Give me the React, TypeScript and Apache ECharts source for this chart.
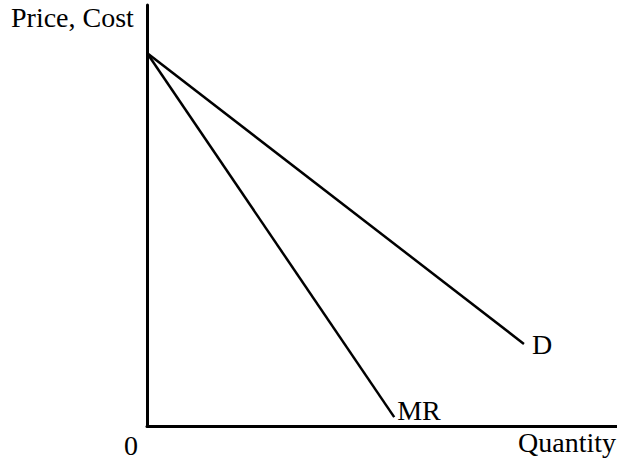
import React, { useEffect, useRef } from "react";
import * as echarts from "echarts";

const demandCurve: [number, number][] = [
  [0, 8.86],
  [8.02, 1.95],
];
const mrCurve: [number, number][] = [
  [0, 8.86],
  [5.26, 0.21],
];
const seriesNames = ["D", "MR"];
const yAxisTitle = "Price, Cost";
const xAxisTitle = "Quantity";
const originLabel = "0";

const FONT = "'Liberation Serif', 'Times New Roman', serif";
const FS = 28;

export default function App() {
  const ref = useRef<HTMLDivElement>(null);
  useEffect(() => {
    if (!ref.current) return;
    const chart = echarts.init(ref.current, undefined, { renderer: "svg" });
    const lineStyle = { color: "#000", width: 2.5 };
    chart.setOption({
      animation: false,
      backgroundColor: "#fff",
      grid: { left: 147, right: 0, top: 5, bottom: 37 },
      xAxis: {
        type: "value",
        min: 0,
        max: 10,
        axisLine: { show: true, lineStyle: { color: "#000", width: 3 } },
        axisTick: { show: false },
        axisLabel: { show: false },
        splitLine: { show: false },
      },
      yAxis: {
        type: "value",
        min: 0,
        max: 10,
        axisLine: { show: true, lineStyle: { color: "#000", width: 3 } },
        axisTick: { show: false },
        axisLabel: { show: false },
        splitLine: { show: false },
      },
      series: [
        {
          type: "line",
          name: seriesNames[0],
          data: demandCurve,
          symbol: "none",
          lineStyle,
          endLabel: {
            show: true,
            formatter: seriesNames[0],
            color: "#000",
            fontFamily: FONT,
            fontSize: FS,
            distance: 8,
            offset: [0, 1],
          },
        },
        {
          type: "line",
          name: seriesNames[1],
          data: mrCurve,
          symbol: "none",
          lineStyle,
          endLabel: {
            show: true,
            formatter: seriesNames[1],
            color: "#000",
            fontFamily: FONT,
            fontSize: FS,
            distance: 3,
            offset: [0, -7],
          },
        },
      ],
      graphic: [
        {
          type: "text",
          left: 11,
          top: 3,
          style: { text: yAxisTitle, fill: "#000", font: `${FS}px ${FONT}` },
        },
        {
          type: "text",
          left: 124,
          top: 431,
          style: { text: originLabel, fill: "#000", font: `${FS}px ${FONT}` },
        },
        {
          type: "text",
          right: 1,
          top: 428,
          style: { text: xAxisTitle, fill: "#000", font: `${FS}px ${FONT}` },
        },
      ],
    });
    return () => chart.dispose();
  }, []);
  return <div ref={ref} style={{ width: 617, height: 463, position: "absolute", left: 0, top: 0 }} />;
}
